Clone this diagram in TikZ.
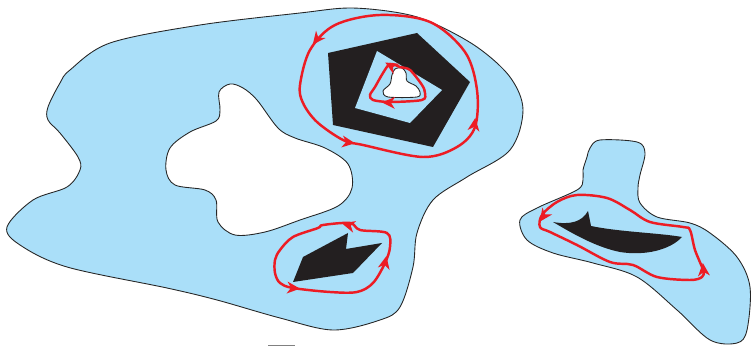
\documentclass[tikz,border=0pt]{standalone}
\usepackage{tikz}
\definecolor{acqua}{RGB}{170,223,249}
\definecolor{nero}{RGB}{35,31,32}
\definecolor{rosso}{RGB}{237,28,36}
\tikzset{
 bordo/.style={draw=black!85, line width=0.5pt},
 ciclo/.style={draw=rosso, line width=1.4pt, smooth cycle, tension=0.55},
 punta/.pic={\fill[rosso] (2,0) -- (-11,-6) -- (-7,0) -- (-11,6) -- cycle;}
}

\begin{document}
\begin{tikzpicture}[x=0.02cm, y=-0.02cm]
 \useasboundingbox (0,0) rectangle (751,347);
 % regione grande con buco
 \path[fill=acqua, even odd rule, smooth cycle, tension=0.55]
  plot coordinates {(7,227) (33,200) (67,187) (80,170) (78,157) (60,133) (48,120) (48,107) (60,83) (70,70)
   (110,43) (200,25) (300,13) (350,8) (400,13) (433,23) (477,47) (510,77) (523,110) (510,150)
   (467,177) (433,200) (417,233) (413,267) (400,307) (380,320) (333,330) (280,318) (217,300)
   (167,288) (67,267) (20,245)}
  plot coordinates {(230,84) (219,92) (220,110) (216,121) (190,132) (170,148) (166,170) (175,185)
   (205,190) (216,200) (218,222) (235,235) (265,232) (300,220) (338,206) (352,188) (348,164)
   (325,148) (295,138) (278,128) (257,100) (243,88)};
 \draw[bordo, smooth cycle, tension=0.55]
  plot coordinates {(7,227) (33,200) (67,187) (80,170) (78,157) (60,133) (48,120) (48,107) (60,83) (70,70)
   (110,43) (200,25) (300,13) (350,8) (400,13) (433,23) (477,47) (510,77) (523,110) (510,150)
   (467,177) (433,200) (417,233) (413,267) (400,307) (380,320) (333,330) (280,318) (217,300)
   (167,288) (67,267) (20,245)};
 \draw[bordo, smooth cycle, tension=0.55]
  plot coordinates {(230,84) (219,92) (220,110) (216,121) (190,132) (170,148) (166,170) (175,185)
   (205,190) (216,200) (218,222) (235,235) (265,232) (300,220) (338,206) (352,188) (348,164)
   (325,148) (295,138) (278,128) (257,100) (243,88)};
 % pentagono
 \fill[nero] (328,53) -- (417,33) -- (470,82) -- (433,147) -- (333,125) -- cycle;
 \fill[acqua] (377,51) -- (442,90) -- (410,123) -- (355,108) -- cycle;
 \draw[bordo, fill=white, smooth cycle, tension=0.5]
  plot coordinates {(392,75) (395,69) (402,68) (406,73) (407,81) (416,86) (420,92) (417,97) (388,97) (383,91) (390,84)};
 \draw[ciclo]
  plot coordinates {(300,85) (303,103) (317,122) (343,140) (363,145) (423,157) (457,147) (475,127)
   (477,90) (465,52) (430,22) (380,15) (335,25) (310,50)};
 \pic[rotate=232] at (314,43) {punta};
 \pic[rotate=-8] at (353,143) {punta};
 \pic[rotate=82] at (475,120) {punta};
 \draw[ciclo, tension=0.5]
  plot coordinates {(390,102) (373,100) (370,95) (375,87) (383,73) (390,64) (400,67) (410,70) (422,85) (425,93) (422,100)};
 \pic[rotate=178] at (384,102.5) {punta};
 \pic[rotate=150] at (387,63.5) {punta};
 % forma in basso
 \fill[nero] (293,282) -- (303,257) -- (348,233) -- (346,249) -- (382,243) -- (353,273) -- cycle;
 \draw[ciclo]
  plot coordinates {(293,288) (330,292) (357,292) (373,283) (385,263) (390,247) (387,233) (360,230)
   (350,223) (323,225) (318,228) (293,237) (280,250) (275,260) (275,273) (280,283)};
 \pic[rotate=-5] at (298,288.5) {punta};
 \pic[rotate=78] at (386,258) {punta};
 \pic[rotate=165] at (344,224) {punta};
 % regione a destra
 \draw[bordo, fill=acqua, smooth cycle, tension=0.55]
  plot coordinates {(590,148) (600,140) (637,142) (645,153) (640,175) (638,188) (640,203) (657,217)
   (690,223) (710,233) (737,257) (750,287) (747,330) (737,343) (710,340) (677,310) (637,277)
   (593,263) (553,253) (527,240) (520,220) (537,208) (577,190) (583,180) (583,170) (587,157)};
 \fill[nero] (553,222) .. controls (570,225) and (582,222) .. (588,211) -- (591,226)
  .. controls (620,232) and (660,233) .. (682,237) .. controls (670,250) and (645,256) .. (620,252)
  .. controls (595,247) and (570,232) .. cycle;
 \draw[ciclo]
  plot coordinates {(550,232) (577,245) (610,262) (633,265) (657,277) (690,280) (702,277) (703,270)
   (695,250) (690,230) (683,227) (650,222) (630,210) (607,198) (577,195) (557,202) (542,215) (540,227)};
 \pic[rotate=95] at (703,265) {punta};
 \pic[rotate=235] at (541,220) {punta};
 % trattino
 \draw[gray, line width=0.6pt] (268,345.5) -- (295,345.5);
\end{tikzpicture}
\end{document}
